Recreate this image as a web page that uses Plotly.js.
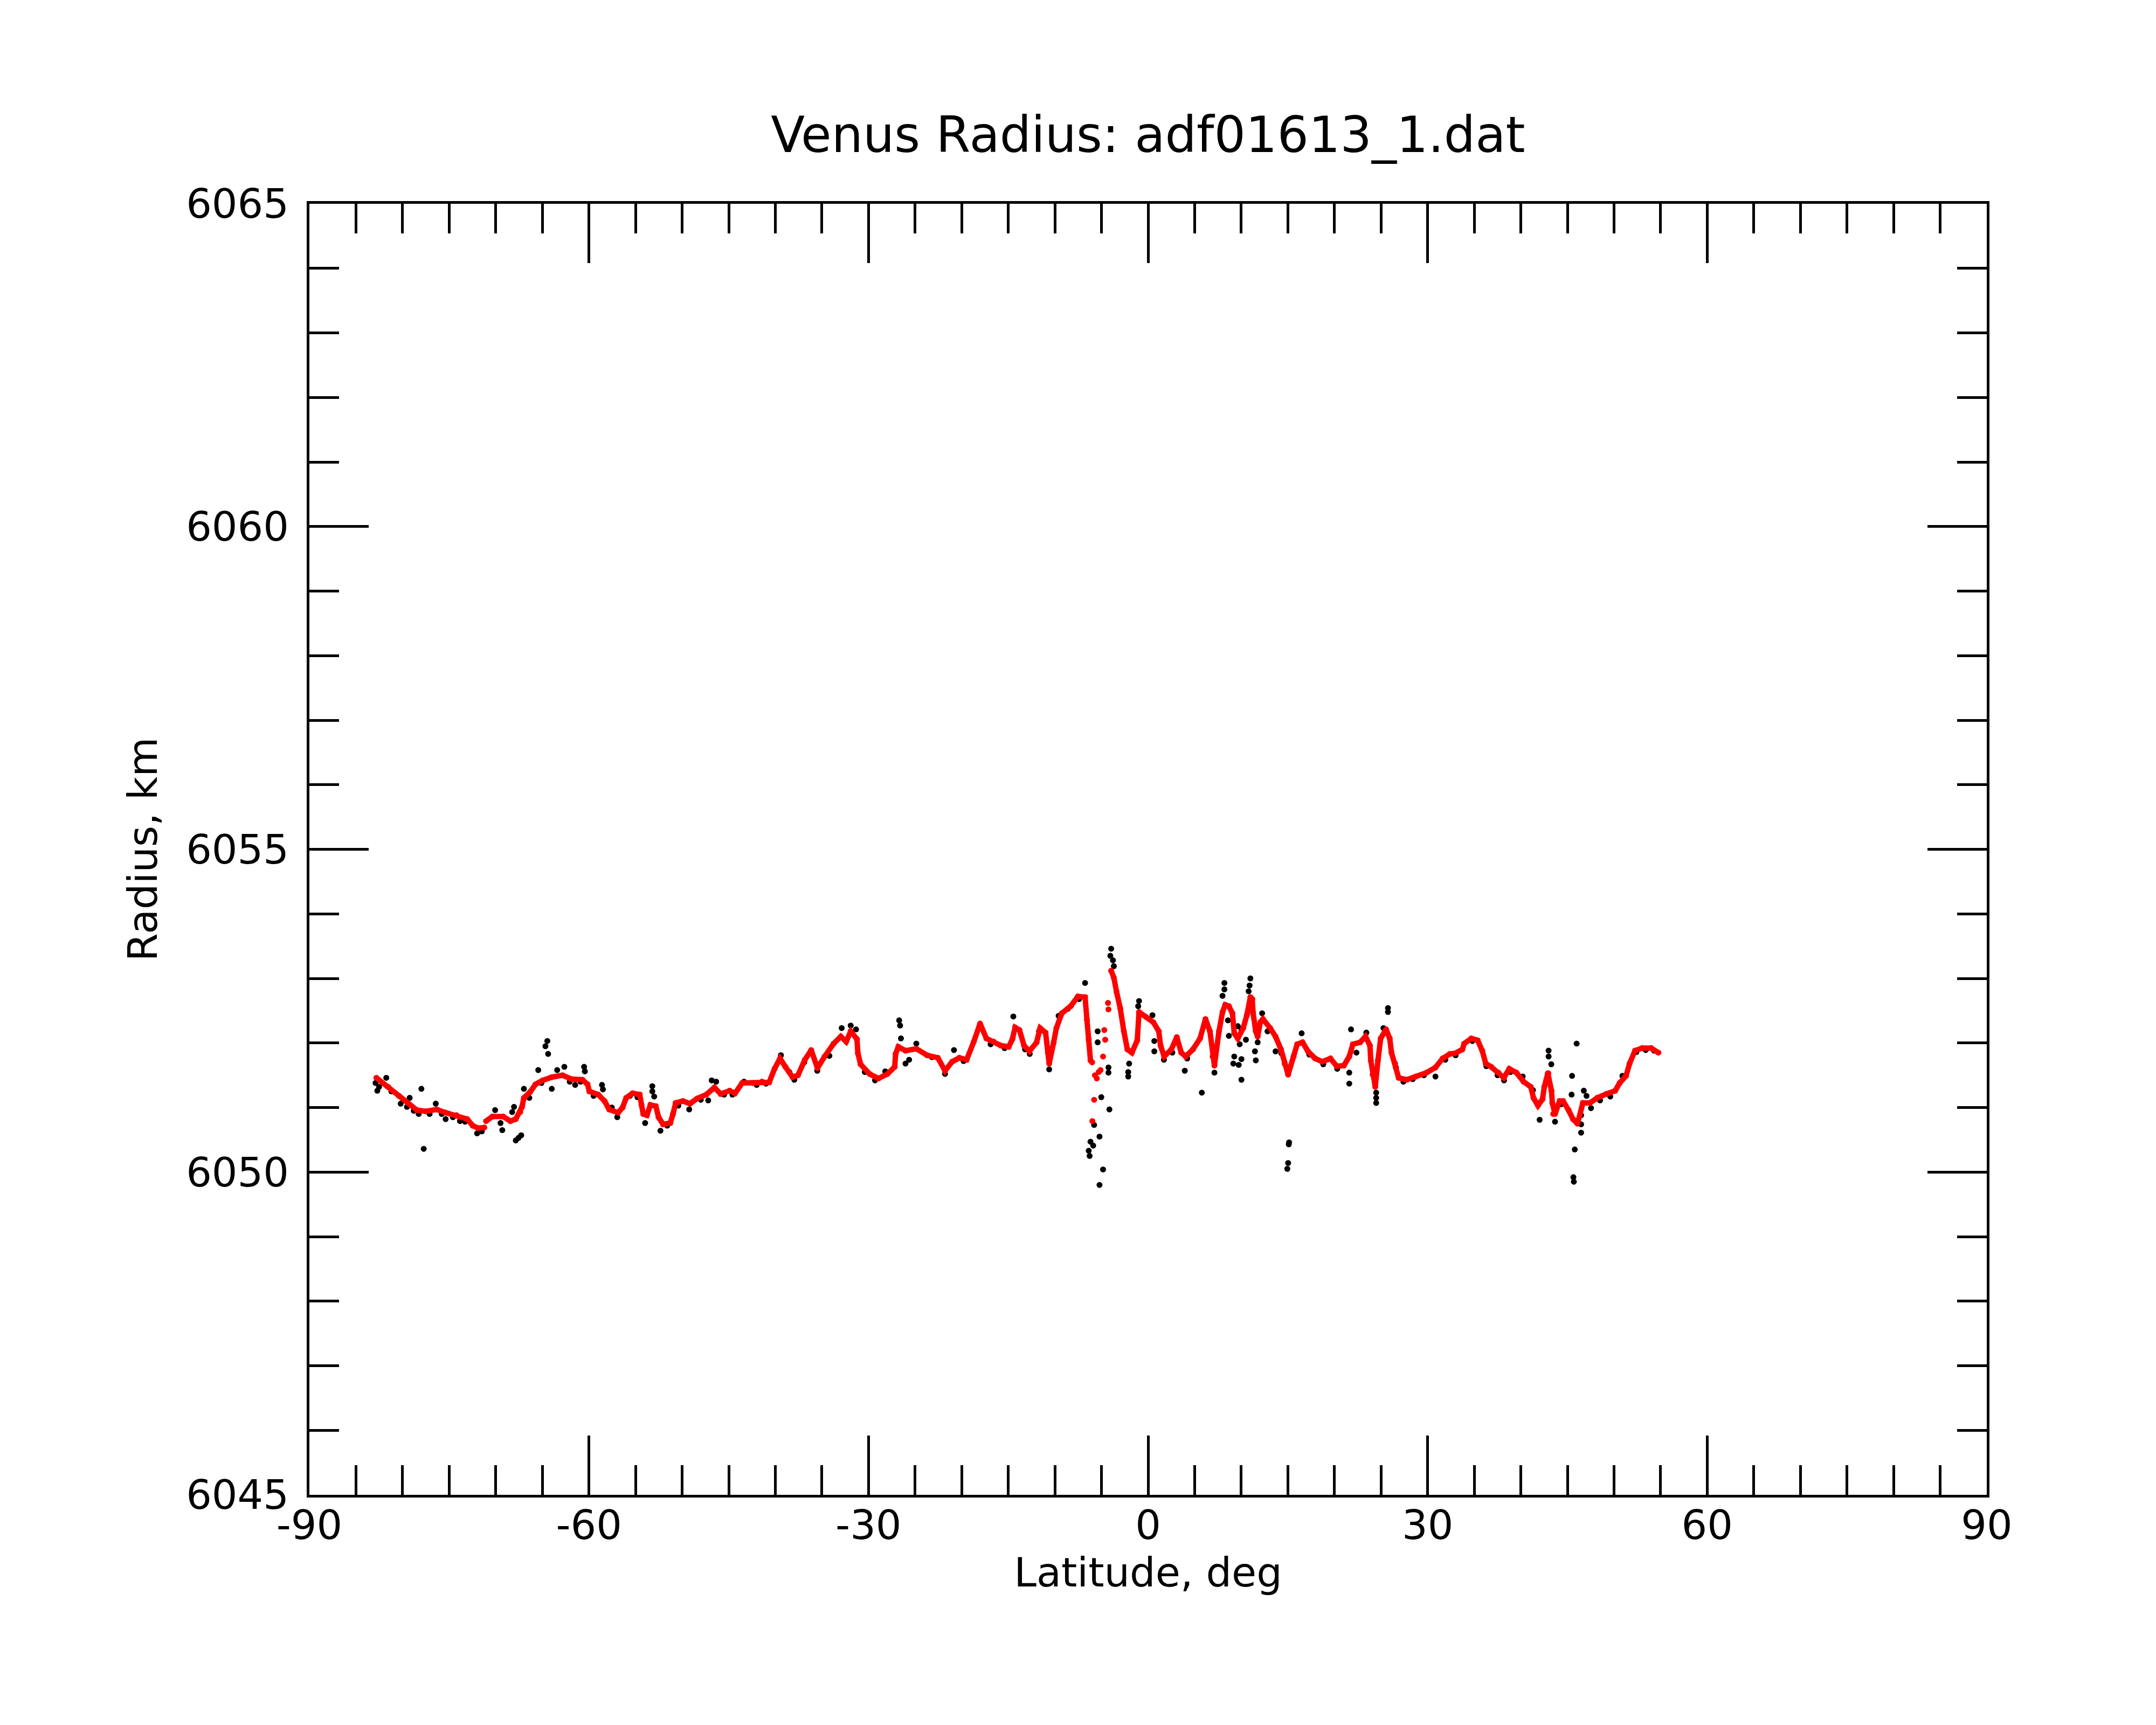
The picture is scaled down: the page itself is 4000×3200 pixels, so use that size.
<!DOCTYPE html>
<html>
<head>
<meta charset="utf-8">
<script src="https://cdn.plot.ly/plotly-3.0.1.min.js"></script>
<style>
  html, body { margin: 0; padding: 0; background: #fff; }
  #plot { width: 4000px; height: 3200px; }
</style>
</head>
<body>
<div id="plot"></div>
<script>
// smoothed radius profile (red), null = break in the curve
const redLat = [
  -82.81, -81.55, -80.39, -79.43, -78.47, -77.50, -76.34, -75.38, -74.22, -73.06,
  -72.48, -71.90, -71.23, null,
  -71.04, -70.36, -69.20, -68.43, -67.85, -67.37, -67.18, -66.98, -66.31, -65.73,
  -64.96, -63.99, -62.83, -61.87, -60.71, -60.15, -59.96, -59.00, -58.32, -57.83,
  -56.87, -56.39, -56.00, -55.32, -54.55, -54.36, -54.17, -53.78, -53.40, -52.82,
  -52.53, -52.04, -51.27, -50.98, -50.69, -49.92, -49.15, -48.38, -47.41, -46.54,
  -45.87, -44.90, -44.32, -43.55, -42.39, -41.43, -40.66, -40.08, -39.50, -38.92,
  -38.15, -37.57, -36.83, -36.15, -35.48, -34.71, -33.74, -32.97, -32.40, -31.91,
  -31.24, -31.14, -30.85, -29.89, -28.93, -27.96, -27.19, -27.09, -26.80, -26.03,
  -24.87, -23.71, -22.56, -21.79, -21.02, -20.25, -19.47, -18.70, -18.03, -17.35,
  -16.58, -15.81, -14.95, -14.56, -14.27, -13.80, -13.31, -12.74, -11.96, -11.58,
  -11.00, -10.75, -10.61, -10.13, -9.84, -9.26, -8.30, -7.53, -6.76, -6.56,
  -6.37, -6.18, null,
  -3.96, -3.67, -3.38, -2.99, -2.60, -2.22, -1.74, -1.16, -0.97, -0.20,
  0.57, 1.15, 1.34, 1.73, 2.50, 3.08, 3.56, 4.04, 4.81, 5.58,
  6.16, 6.64, 6.93, 7.12, 7.61, 7.99, 8.28, 8.67, 9.05, 9.25,
  9.63, 10.21, 10.60, 10.98, 11.18, 11.27, 11.56, 11.76, 12.04, 12.33,
  13.10, 13.68, 14.26, 14.65, 15.03, 15.61, 16.00, 16.58, 17.16, 17.93,
  18.70, 19.57, 20.24, 21.01, 21.59, 21.98, 22.75, 23.33, 23.81, 23.90,
  24.10, 24.38, 24.67, 24.96, 25.54, 25.93, 26.12, 26.51, 26.89, 27.76,
  28.72, 29.88, 30.84, 31.61, 32.39, 32.96, 33.73, 33.92, 34.69, 35.37,
  35.86, 36.24, 36.82, 37.60, 38.18, 38.76, 39.53, 40.30, 41.07, 41.36,
  41.84, 42.33, 42.52, 42.90, 43.29, 43.38, 43.67, 44.16, 44.54, 45.12,
  45.60, 46.08, 46.66, 47.43, 48.20, 49.17, 50.13, 50.61, 51.29, 51.67,
  52.25, 53.02, 53.99, 54.76
];
const redRad = [
  6051.46, 6051.32, 6051.18, 6051.07, 6050.96, 6050.94, 6050.97, 6050.92, 6050.88, 6050.82,
  6050.72, 6050.68, 6050.69, null,
  6050.79, 6050.86, 6050.86, 6050.79, 6050.82, 6050.93, 6051.01, 6051.15, 6051.24, 6051.36,
  6051.42, 6051.47, 6051.50, 6051.44, 6051.43, 6051.36, 6051.25, 6051.20, 6051.10, 6050.97,
  6050.92, 6051.00, 6051.15, 6051.22, 6051.20, 6051.04, 6050.90, 6050.88, 6051.04, 6051.02,
  6050.85, 6050.74, 6050.76, 6050.90, 6051.07, 6051.10, 6051.06, 6051.14, 6051.20, 6051.31,
  6051.21, 6051.26, 6051.22, 6051.38, 6051.38, 6051.40, 6051.39, 6051.60, 6051.76, 6051.63,
  6051.47, 6051.50, 6051.74, 6051.89, 6051.61, 6051.79, 6051.99, 6052.10, 6052.02, 6052.18,
  6052.06, 6051.84, 6051.67, 6051.52, 6051.45, 6051.52, 6051.63, 6051.83, 6051.94, 6051.88,
  6051.91, 6051.81, 6051.77, 6051.57, 6051.71, 6051.77, 6051.74, 6052.02, 6052.30, 6052.07,
  6052.02, 6051.96, 6051.94, 6052.06, 6052.24, 6052.20, 6051.96, 6051.87, 6052.01, 6052.23,
  6052.16, 6051.85, 6051.68, 6052.01, 6052.23, 6052.46, 6052.57, 6052.72, 6052.71, 6052.36,
  6052.05, 6051.73, null,
  6053.12, 6053.01, 6052.79, 6052.54, 6052.18, 6051.90, 6051.85, 6052.04, 6052.48, 6052.40,
  6052.32, 6052.18, 6051.96, 6051.79, 6051.90, 6052.09, 6051.85, 6051.79, 6051.90, 6052.07,
  6052.37, 6052.18, 6051.79, 6051.65, 6052.18, 6052.48, 6052.59, 6052.57, 6052.46, 6052.15,
  6052.07, 6052.23, 6052.43, 6052.71, 6052.68, 6052.46, 6052.18, 6052.10, 6052.32, 6052.37,
  6052.23, 6052.10, 6051.90, 6051.68, 6051.51, 6051.79, 6051.98, 6052.01, 6051.87, 6051.76,
  6051.71, 6051.76, 6051.64, 6051.65, 6051.79, 6051.98, 6052.01, 6052.10, 6051.96, 6051.73,
  6051.51, 6051.32, 6051.73, 6052.07, 6052.21, 6052.07, 6051.85, 6051.68, 6051.46, 6051.43,
  6051.48, 6051.54, 6051.62, 6051.76, 6051.83, 6051.84, 6051.90, 6051.99, 6052.07, 6052.04,
  6051.88, 6051.68, 6051.63, 6051.54, 6051.46, 6051.60, 6051.54, 6051.40, 6051.32, 6051.15,
  6051.03, 6051.13, 6051.32, 6051.53, 6051.26, 6051.07, 6050.90, 6051.10, 6051.10, 6050.96,
  6050.82, 6050.75, 6051.07, 6051.07, 6051.15, 6051.21, 6051.26, 6051.38, 6051.49, 6051.68,
  6051.88, 6051.92, 6051.92, 6051.85
];

// isolated red points in the noisy stretch near -5 deg
const redDotLat = [-6.00, -5.98, -5.79, -5.70, -5.50, -5.30, -5.10, -4.83, -4.70, -4.60, -4.30, -4.25, 42.95, 43.48];
const redDotRad = [6051.70, 6050.79, 6051.12, 6051.50, 6051.45, 6051.55, 6051.58, 6051.79, 6052.20, 6052.05, 6052.62, 6052.52, 6051.53, 6050.90];

// raw radius samples (black)
const rawLat = [
  -82.90, -82.71, -82.52, -81.75, -81.20, -80.20, -79.90, -79.53, -79.24, -78.80, -78.27, -77.98, -77.73,
  -77.10, -76.44, -75.80, -75.38, -74.60, -73.84, -73.30, -72.00, -71.50, -70.07, -69.49, -69.30,
  -68.24, -68.04, -67.85, -67.56, -67.27, -66.98, -66.40, -65.44, -65.10, -64.67, -64.47, -64.38,
  -63.99, -63.41, -62.64, -62.06, -61.48, -60.90, -60.52, -60.44, -59.50, -58.60, -58.50, -57.55,
  -56.96, -55.60, -54.80, -53.97, -53.20, -53.20, -53.00, -52.33, -51.60, -50.40, -49.24, -48.00,
  -47.20, -46.83, -46.35, -45.50, -44.60, -43.36, -42.00, -41.00, -39.40, -38.50, -37.96, -36.90,
  -35.50, -34.20, -32.88, -31.91, -31.34, -30.40, -29.30, -28.20, -26.71, -26.61, -26.52, -26.03,
  -25.64, -24.87, -23.20, -21.79, -20.83, -19.80, -18.10, -16.90, -15.40, -14.46, -13.20, -12.70,
  -11.70, -10.61, -9.60, -8.60, -7.40, -6.76, -6.37, -6.27, -6.18, -5.89, -5.79, -5.41,
  -5.41, -5.21, -5.21, -5.02, -4.83, -4.25, -4.25, -4.15, -4.05, -3.96, -3.77, -3.67,
  -2.13, -2.13, -2.03, -1.06, -0.97, 0.47, 0.67, 0.67, 1.70, 2.60, 3.94, 4.20,
  5.77, 6.20, 7.12, 7.99, 8.19, 8.19, 8.57, 8.67, 9.15, 9.25, 9.63, 9.73,
  9.83, 10.02, 10.02, 10.02, 10.50, 10.79, 10.89, 10.98, 11.47, 11.56, 11.76, 12.24,
  12.82, 13.68, 14.30, 14.94, 15.03, 15.10, 15.13, 16.48, 17.30, 18.80, 20.30, 21.59,
  21.59, 21.78, 22.36, 23.42, 24.48, 24.48, 24.48, 25.26, 25.74, 25.74, 26.60, 27.40,
  28.40, 29.60, 30.84, 31.90, 33.00, 34.80, 36.30, 37.50, 38.20, 38.90, 40.20, 41.30,
  42.02, 42.98, 42.98, 43.27, 43.67, 44.30, 45.45, 45.50, 45.64, 45.69, 45.79, 45.99,
  46.47, 46.47, 46.47, 46.76, 47.05, 47.53, 48.50, 49.60, 50.90, 52.40, 53.40, 54.30
];
const rawRad = [
  6051.38, 6051.26, 6051.32, 6051.46, 6051.25, 6051.06, 6051.12, 6051.01, 6051.15, 6050.95, 6050.90, 6051.29, 6050.36,
  6050.90, 6051.06, 6050.90, 6050.82, 6050.85, 6050.79, 6050.78, 6050.60, 6050.63, 6050.96, 6050.76, 6050.65,
  6050.93, 6051.01, 6050.49, 6050.53, 6050.57, 6051.29, 6051.15, 6051.58, 6051.38, 6051.95, 6052.03, 6051.83,
  6051.29, 6051.58, 6051.63, 6051.40, 6051.35, 6051.40, 6051.63, 6051.56, 6051.18, 6051.35, 6051.28, 6051.00,
  6050.85, 6051.18, 6051.16, 6050.76, 6051.33, 6051.25, 6051.17, 6050.64, 6050.72, 6051.03, 6050.97, 6051.12,
  6051.11, 6051.42, 6051.40, 6051.20, 6051.20, 6051.40, 6051.35, 6051.37, 6051.81, 6051.55, 6051.43, 6051.70,
  6051.57, 6051.80, 6052.23, 6052.27, 6052.21, 6051.55, 6051.42, 6051.56, 6052.35, 6052.27, 6052.07, 6051.68,
  6051.74, 6051.99, 6051.78, 6051.52, 6051.89, 6051.72, 6052.25, 6051.98, 6051.92, 6052.41, 6051.90, 6051.83,
  6052.18, 6051.59, 6052.42, 6052.53, 6052.68, 6052.93, 6050.33, 6050.25, 6050.47, 6050.41, 6050.73, 6052.18,
  6052.01, 6050.55, 6049.80, 6051.16, 6050.04, 6051.62, 6051.54, 6050.97, 6053.35, 6053.46, 6053.28, 6053.19,
  6051.55, 6051.48, 6051.68, 6052.57, 6052.65, 6052.43, 6052.03, 6051.87, 6051.74, 6051.85, 6051.57, 6051.76,
  6051.23, 6052.33, 6051.54, 6052.73, 6052.83, 6052.93, 6052.35, 6052.11, 6051.68, 6051.79, 6052.26, 6051.66,
  6051.98, 6051.75, 6051.43, 6052.21, 6052.05, 6052.80, 6052.89, 6053.00, 6051.87, 6051.73, 6052.01, 6052.46,
  6052.18, 6051.87, 6051.84, 6050.05, 6050.14, 6050.43, 6050.46, 6052.15, 6051.82, 6051.67, 6051.60, 6051.54,
  6051.37, 6052.21, 6051.85, 6052.16, 6051.23, 6051.15, 6051.07, 6052.23, 6052.54, 6052.48, 6051.62, 6051.40,
  6051.44, 6051.50, 6051.48, 6051.74, 6051.81, 6052.03, 6051.64, 6051.50, 6051.42, 6051.55, 6051.48, 6051.27,
  6050.81, 6051.88, 6051.79, 6051.67, 6050.78, 6051.05, 6051.20, 6051.49, 6049.92, 6049.85, 6050.35, 6051.99,
  6050.88, 6050.74, 6050.61, 6051.26, 6051.18, 6050.99, 6051.11, 6051.17, 6051.49, 6051.86, 6051.89, 6051.88
];

const latTicks = [-90, -60, -30, 0, 30, 60, 90];
const radTicks = [6045, 6050, 6055, 6060, 6065];

const font = { family: 'DejaVu Sans', color: '#000' };

const raw = {
  type: 'scatter',
  mode: 'markers',
  x: rawLat,
  y: rawRad,
  marker: { color: '#000000', size: 11 },
  hoverinfo: 'x+y'
};

const smooth = {
  type: 'scatter',
  mode: 'lines+markers',
  x: redLat,
  y: redRad,
  connectgaps: false,
  line: { color: '#ff0000', width: 10 },
  marker: { color: '#ff0000', size: 11 }
};

const smoothDots = {
  type: 'scatter',
  mode: 'markers',
  x: redDotLat,
  y: redDotRad,
  marker: { color: '#ff0000', size: 11 }
};

const axisCommon = {
  showgrid: false,
  zeroline: false,
  showline: true,
  linecolor: '#000',
  linewidth: 5,
  mirror: 'ticks',
  ticks: 'inside',
  tickwidth: 5,
  ticklen: 110,
  tickcolor: '#000',
  tickfont: Object.assign({ size: 75 }, font)
};

const layout = {
  width: 4000,
  height: 3200,
  paper_bgcolor: '#fff',
  plot_bgcolor: '#fff',
  showlegend: false,
  margin: { l: 574, r: 314, t: 378, b: 427, autoexpand: false },
  font: font,
  title: {
    text: 'Venus Radius: adf01613_1.dat',
    font: Object.assign({ size: 92 }, font),
    x: 0.5325,
    xanchor: 'center',
    y: 1 - 250 / 3200,
    yanchor: 'middle',
    yref: 'container'
  },
  xaxis: Object.assign({}, axisCommon, {
    range: [-90, 90],
    tickvals: latTicks,
    ticktext: latTicks.map(String),
    ticklabelstandoff: -13,
    minor: { dtick: 5, tick0: 0, ticks: 'inside', ticklen: 55, tickwidth: 5, tickcolor: '#000' },
    title: { text: 'Latitude, deg', font: Object.assign({ size: 75 }, font), standoff: 0 }
  }),
  yaxis: Object.assign({}, axisCommon, {
    range: [6045, 6065],
    tickvals: radTicks,
    ticktext: radTicks.map(String),
    ticklabelstandoff: 18,
    minor: { dtick: 1, tick0: 6045, ticks: 'inside', ticklen: 55, tickwidth: 5, tickcolor: '#000' },
    title: { text: 'Radius, km', font: Object.assign({ size: 75 }, font), standoff: 30 }
  })
};

const config = { displayModeBar: false, staticPlot: true };

Plotly.newPlot(document.getElementById('plot'), [raw, smooth, smoothDots], layout, config);
</script>
</body>
</html>
